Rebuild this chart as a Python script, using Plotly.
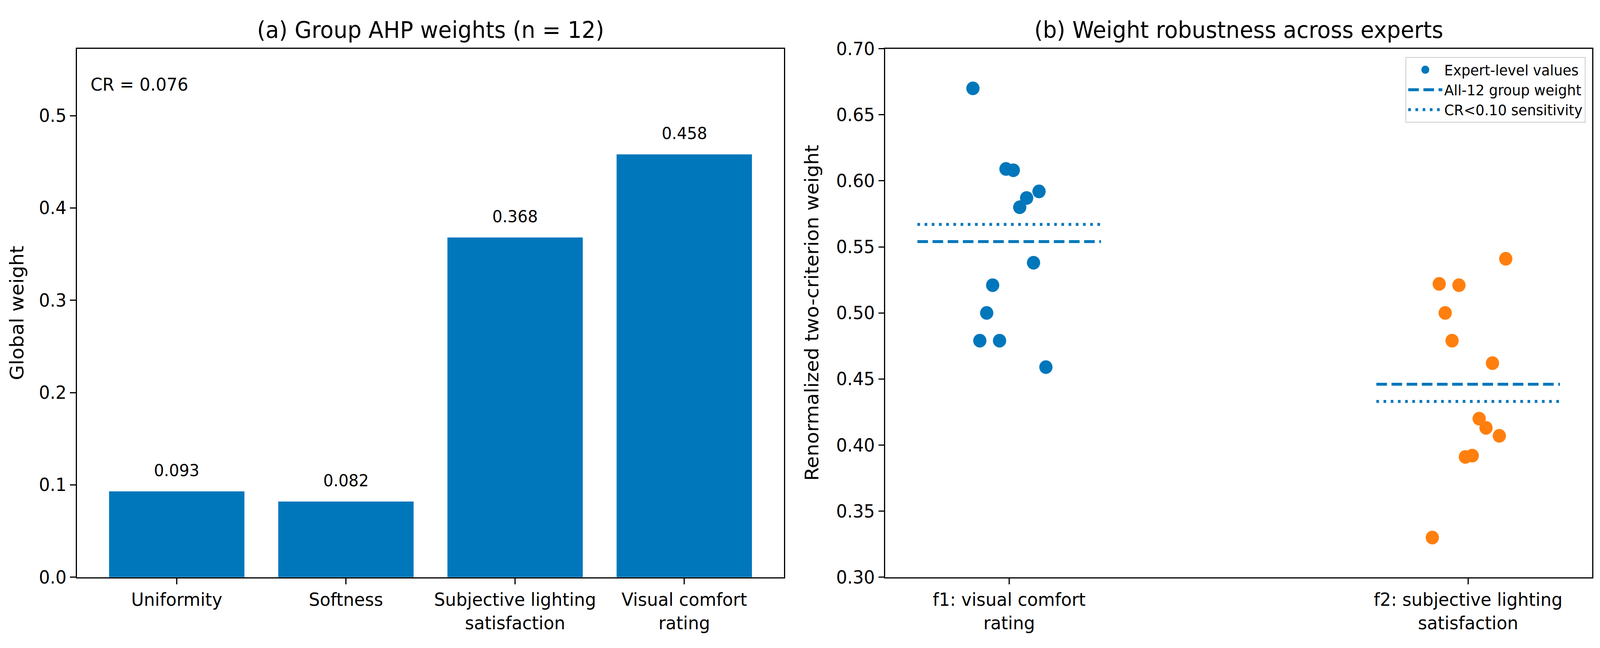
import plotly.graph_objects as go

# panel (a): group AHP weights
criteria = ["Uniformity", "Softness", "Subjective lighting satisfaction", "Visual comfort rating"]
criteria_ticks = ["Uniformity", "Softness", "Subjective lighting<br>satisfaction", "Visual comfort<br>rating"]
global_weights = [0.093, 0.082, 0.368, 0.458]
cr_value = 0.076
n_experts = 12

# panel (b): expert-level renormalized weights
factor_ticks = ["f1: visual comfort<br>rating", "f2: subjective lighting<br>satisfaction"]
f1_experts = [0.670, 0.609, 0.608, 0.592, 0.587, 0.580, 0.538, 0.521, 0.500, 0.479, 0.479, 0.459]
f1_jitter = [-0.079, -0.007, 0.009, 0.065, 0.038, 0.023, 0.053, -0.036, -0.049, -0.064, -0.021, 0.080]
f2_experts = [0.541, 0.522, 0.521, 0.500, 0.479, 0.462, 0.420, 0.413, 0.407, 0.392, 0.391, 0.330]
f2_jitter = [0.082, -0.063, -0.020, -0.050, -0.035, 0.053, 0.024, 0.039, 0.068, 0.009, -0.006, -0.078]
group_all12 = [0.554, 0.446]
group_cr_ok = [0.567, 0.433]

BLUE = "#0077BB"
ORANGE = "#FF7F0E"
FONT = "DejaVu Sans"
W, H = 4222, 1659

# axes boxes in pixels, converted to paper fractions
y_dom = [1 - 1499.5 / H, 1 - 101 / H]
x1_dom = [203 / W, 2069 / W]
x2_dom = [2336 / W, 4201 / W]

fig = go.Figure()

fig.add_trace(go.Bar(
    x=list(range(len(criteria))), y=global_weights, width=0.8,
    marker=dict(color=BLUE, line=dict(width=0)),
    hovertext=criteria, showlegend=False, xaxis="x", yaxis="y",
))

# expert points
fig.add_trace(go.Scatter(
    x=[0 + j for j in f1_jitter], y=f1_experts, mode="markers",
    marker=dict(color=BLUE, size=35, line=dict(width=0)),
    name="Expert-level values", showlegend=False, xaxis="x2", yaxis="y2",
))
fig.add_trace(go.Scatter(
    x=[1 + j for j in f2_jitter], y=f2_experts, mode="markers",
    marker=dict(color=ORANGE, size=35, line=dict(width=0)),
    showlegend=False, xaxis="x2", yaxis="y2",
))
# legend entry only (plotly caps legend marker size, so pad it with an outline)
fig.add_trace(go.Scatter(
    x=[None], y=[None], mode="markers",
    marker=dict(color=BLUE, size=16, line=dict(color=BLUE, width=5)),
    name="Expert-level values", legendgroup="a", xaxis="x2", yaxis="y2",
))

half = 0.2
xs, ys_a, ys_c = [], [], []
for i in range(2):
    xs += [i - half, i + half, None]
    ys_a += [group_all12[i], group_all12[i], None]
    ys_c += [group_cr_ok[i], group_cr_ok[i], None]

fig.add_trace(go.Scatter(
    x=xs, y=ys_a, mode="lines", line=dict(color=BLUE, width=7.5, dash="28px,12px"),
    name="All-12 group weight", legendgroup="b", xaxis="x2", yaxis="y2",
))
fig.add_trace(go.Scatter(
    x=xs, y=ys_c, mode="lines", line=dict(color=BLUE, width=7.5, dash="7px,12px"),
    name="CR<0.10 sensitivity", legendgroup="c", xaxis="x2", yaxis="y2",
))

axis_common = dict(
    showline=True, linecolor="black", linewidth=3.3, mirror=True,
    ticks="outside", ticklen=15, tickwidth=3.3, tickcolor="black",
    showgrid=False, zeroline=False, tickfont=dict(family=FONT, size=46, color="black"),
)

lo, hi = -0.4, len(criteria) - 1 + 0.4
pad = 0.05 * (hi - lo)
lo2, hi2 = -half, 1 + half
pad2 = 0.05 * (hi2 - lo2)

fig.update_layout(
    width=W, height=H, autosize=False,
    margin=dict(l=0, r=0, t=0, b=0),
    paper_bgcolor="white", plot_bgcolor="white",
    font=dict(family=FONT, color="black"),
    xaxis=dict(domain=x1_dom, anchor="y", range=[lo - pad, hi + pad],
               tickmode="array", tickvals=list(range(len(criteria))), ticktext=criteria_ticks,
               **axis_common),
    yaxis=dict(domain=y_dom, anchor="x", range=[0, max(global_weights) * 1.25],
               tick0=0, dtick=0.1, tickformat=".1f", **axis_common),
    xaxis2=dict(domain=x2_dom, anchor="y2", range=[lo2 - pad2, hi2 + pad2],
                tickmode="array", tickvals=[0, 1], ticktext=factor_ticks, **axis_common),
    yaxis2=dict(domain=y_dom, anchor="x2", range=[0.30, 0.70],
                tick0=0.30, dtick=0.05, tickformat=".2f", **axis_common),
    legend=dict(
        x=4184 / W, y=1 - 123 / H, xanchor="right", yanchor="top",
        font=dict(family=FONT, size=37, color="black"),
        bgcolor="rgba(255,255,255,0.8)", bordercolor="#cccccc", borderwidth=2,
        itemwidth=90, tracegroupgap=9, traceorder="normal",
    ),
)

ann = []
# bar value labels
for i, v in enumerate(global_weights):
    ann.append(dict(x=i, y=v, xref="x", yref="y", text=f"{v:.3f}", showarrow=False,
                    xanchor="center", yanchor="bottom", yshift=27, font=dict(size=42)))
ann.append(dict(x=0.018, y=0.953, xref="x domain", yref="y domain", text=f"CR = {cr_value:.3f}",
                showarrow=False, xanchor="left", yanchor="top", font=dict(size=45)))
# titles
ann.append(dict(x=sum(x1_dom) / 2, y=y_dom[1], xref="paper", yref="paper",
                text=f"(a) Group AHP weights (n = {n_experts})", showarrow=False,
                xanchor="center", yanchor="bottom", yshift=12, font=dict(size=58)))
ann.append(dict(x=sum(x2_dom) / 2, y=y_dom[1], xref="paper", yref="paper",
                text="(b) Weight robustness across experts", showarrow=False,
                xanchor="center", yanchor="bottom", yshift=12, font=dict(size=58)))
# y axis titles
ann.append(dict(x=45 / W, y=sum(y_dom) / 2, xref="paper", yref="paper", text="Global weight",
                textangle=-90, showarrow=False, xanchor="center", yanchor="middle",
                font=dict(size=50)))
ann.append(dict(x=2143 / W, y=sum(y_dom) / 2, xref="paper", yref="paper",
                text="Renormalized two-criterion weight", textangle=-90, showarrow=False,
                xanchor="center", yanchor="middle", font=dict(size=50)))
fig.update_layout(annotations=ann)

# stretch the fixed-size figure onto the viewport the browser really has
fit_js = """
document.body.style.margin = '0';
document.body.style.overflow = 'hidden';
var gd = document.getElementById('{plot_id}');
var sx = window.innerWidth / %d, sy = window.innerHeight / %d;
gd.style.transformOrigin = '0 0';
gd.style.transform = 'scale(' + sx + ',' + sy + ')';
""" % (W, H)

fig.write_html("out.html", config={"displayModeBar": False}, post_script=fit_js)
